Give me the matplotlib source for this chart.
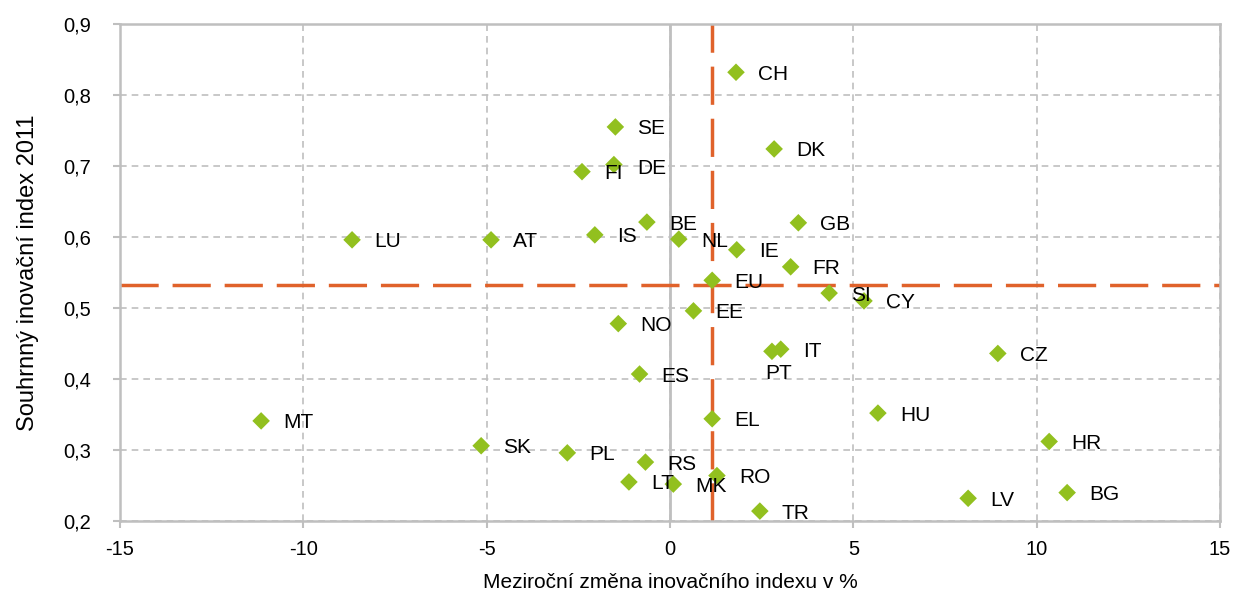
import matplotlib
matplotlib.use("Agg")
import matplotlib.pyplot as plt
from matplotlib.ticker import FuncFormatter

# =========================
# Data
# =========================
countries = ["CH", "SE", "DK", "DE", "FI", "GB", "BE", "IS", "NL", "LU",
             "AT", "IE", "FR", "EU", "SI", "CY", "EE", "NO", "IT", "PT",
             "CZ", "ES", "HU", "MT", "EL", "HR", "SK", "PL", "RS", "RO",
             "LT", "MK", "BG", "LV", "TR"]
change_pct = [1.80, -1.49, 2.84, -1.53, -2.40, 3.50, -0.63, -2.05, 0.24, -8.67,
              -4.88, 1.82, 3.29, 1.15, 4.34, 5.29, 0.64, -1.41, 3.02, 2.78,
              8.94, -0.83, 5.67, -11.15, 1.15, 10.34, -5.15, -2.80, -0.67, 1.28,
              -1.12, 0.09, 10.83, 8.13, 2.45]
index_2011 = [0.832, 0.755, 0.724, 0.702, 0.692, 0.620, 0.621, 0.603, 0.597, 0.596,
              0.596, 0.582, 0.558, 0.539, 0.521, 0.510, 0.496, 0.478, 0.442, 0.439,
              0.436, 0.407, 0.352, 0.341, 0.344, 0.312, 0.306, 0.296, 0.283, 0.264,
              0.255, 0.252, 0.240, 0.232, 0.214]

eu_change = 1.15
eu_index = 0.533

# label offsets in pixels (dx, dy); default is to the right of the point
label_offsets = {"PT": (-7, -22), "DE": (23, -4)}

x_ticks = [-15, -10, -5, 0, 5, 10, 15]
y_ticks = [0.2, 0.3, 0.4, 0.5, 0.6, 0.7, 0.8, 0.9]

# =========================
# Plot
# =========================
plt.rcParams["font.family"] = ["Liberation Sans", "DejaVu Sans"]
plt.rcParams["axes.unicode_minus"] = False

fig = plt.figure(figsize=(12.34, 5.92), dpi=100)
ax = fig.add_axes([0.0972, 0.1199, 0.8915, 0.8396])

grey = "#bfbfbf"
orange = "#e0622b"
green = "#92c01f"

ax.set_xlim(-15, 15)
ax.set_ylim(0.2, 0.9)
ax.set_xticks(x_ticks)
ax.set_yticks(y_ticks)
ax.yaxis.set_major_formatter(FuncFormatter(lambda v, p: f"{v:.1f}".replace(".", ",")))
ax.grid(True, color=grey, linestyle=(0, (4, 3)), linewidth=1.2)
ax.set_axisbelow(True)

for s in ax.spines.values():
    s.set_color(grey)
    s.set_linewidth(1.8)

ax.tick_params(axis="both", colors=grey, labelcolor="black", labelsize=14.5,
               length=5, width=1.5, direction="out")
ax.tick_params(axis="x", pad=9)
ax.tick_params(axis="y", pad=16)

# y axis crossing at 0
ax.axvline(0, color=grey, linewidth=2, zorder=1)

# EU reference lines
ax.axvline(eu_change, color=orange, linewidth=2.5, dashes=(11, 4), zorder=2)
ax.axhline(eu_index, color=orange, linewidth=2.5, dashes=(11, 4), zorder=2)

ax.scatter(change_pct, index_2011, marker="D", s=80, color=green,
           edgecolors="none", zorder=3)

for name, xv, yv in zip(countries, change_pct, index_2011):
    dx, dy = label_offsets.get(name, (22, -2))
    ax.annotate(name, (xv, yv), xytext=(dx, dy), textcoords="offset pixels",
                ha="left", va="center", fontsize=15, zorder=4)

ax.set_xlabel("Meziroční změna inovačního indexu v %", fontsize=15, labelpad=10)
ax.set_ylabel("Souhrnný inovační index 2011", fontsize=17, labelpad=17)

fig.savefig("out.png", dpi=100)
plt.close()
